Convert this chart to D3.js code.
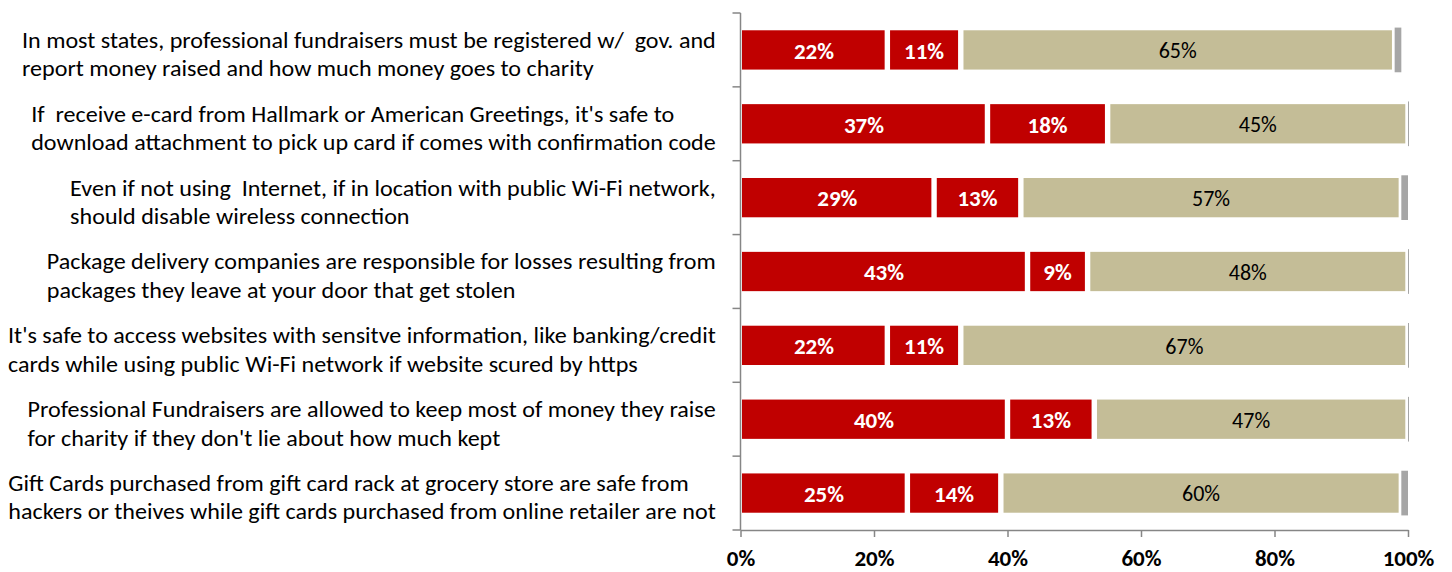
<!DOCTYPE html>
<html><head><meta charset="utf-8">
<script src="https://cdn.jsdelivr.net/npm/d3@7"></script>
<style>
body{margin:0;background:#fff}
svg{display:block}
text{font-family:Carlito,Lato,"Open Sans",sans-serif}
</style>
</head><body>
<svg id="chart" width="1452" height="572"></svg>
<script>
// ---- data ----
const statements = [
  ["In most states, professional fundraisers must be registered w/  gov. and", "report money raised and how much money goes to charity"],
  ["If  receive e-card from Hallmark or American Greetings, it's safe to", "download attachment to pick up card if comes with confirmation code"],
  ["Even if not using  Internet, if in location with public Wi-Fi network,", "should disable wireless connection"],
  ["Package delivery companies are responsible for losses resulting from", "packages they leave at your door that get stolen"],
  ["It's safe to access websites with sensitve information, like banking/credit", "cards while using public Wi-Fi network if website scured by https"],
  ["Professional Fundraisers are allowed to keep most of money they raise", "for charity if they don't lie about how much kept"],
  ["Gift Cards purchased from gift card rack at grocery store are safe from", "hackers or theives while gift cards purchased from online retailer are not"]
];
const seriesA = [22, 37, 29, 43, 22, 40, 25];
const seriesB = [11, 18, 13, 9, 11, 13, 14];
const seriesC = [65, 45, 57, 48, 67, 47, 60];
const seriesD = [1, 0, 1, 0, 0, 0, 1];
const xTicks = [0, 20, 40, 60, 80, 100];
const keys = ["a", "b", "c", "d"];
const colors = {a: "#C00000", b: "#C00000", c: "#C4BD97", d: "#A6A6A6"};

// ---- build table ----
const rows = statements.map((s, i) => ({id: i, a: seriesA[i], b: seriesB[i], c: seriesC[i], d: seriesD[i]}));
const stacked = d3.stack().keys(keys)(rows);

const svg = d3.select("#chart");
const x = d3.scaleLinear().domain([0, 100]).range([740.5, 1408]);
const y = d3.scaleBand().domain(rows.map(r => r.id)).range([13, 530]).paddingInner(0.468).paddingOuter(0.234);
const bw = y.bandwidth();
const axisColor = "#868686";

// ---- bars ----
const gBars = svg.append("g");
stacked.forEach(layer => {
  const key = layer.key;
  const g = gBars.append("g");
  if (key !== "d") {
    g.selectAll("rect").data(layer).enter().append("rect")
      .attr("x", d => x(d[0]) + (d[0] === 0 ? 1.5 : 2.7))
      .attr("y", d => y(d.data.id))
      .attr("width", d => Math.max(0, x(d[1]) - x(d[0]) - (d[0] === 0 ? 1.5 : 2.7) - 2.7))
      .attr("height", bw)
      .attr("fill", colors[key]);
    g.selectAll("text").data(layer).enter().append("text")
      .attr("x", d => (x(d[0]) + x(d[1])) / 2)
      .attr("y", d => y(d.data.id) + bw / 2)
      .attr("dy", "0.38em")
      .attr("text-anchor", "middle")
      .attr("font-size", key === "c" ? 22 : 23)
      .attr("font-weight", key === "c" ? "normal" : "bold")
      .attr("fill", key === "c" ? "#000" : "#fff")
      .text(d => d.data[key] + "%");
  } else {
    g.selectAll("rect").data(layer).enter().append("rect")
      .attr("x", d => x(d[0]))
      .attr("y", d => y(d.data.id) - 2.7)
      .attr("width", d => Math.max(1, x(d[1]) - x(d[0])))
      .attr("height", bw + 5.4)
      .attr("fill", colors[key]);
  }
});

// ---- left axis (category boundaries) ----
const gL = svg.append("g").attr("stroke", axisColor).attr("stroke-width", 1.5);
gL.append("line").attr("x1", x(0)).attr("x2", x(0)).attr("y1", y.range()[0]).attr("y2", y.range()[1]);
d3.range(rows.length + 1).forEach(i => {
  const yy = y.range()[0] + i * y.step();
  gL.append("line").attr("x1", x(0) - 8).attr("x2", x(0)).attr("y1", yy).attr("y2", yy);
});

// ---- bottom axis ----
const gx = svg.append("g").attr("transform", `translate(0,${y.range()[1]})`)
  .call(d3.axisBottom(x).tickValues(xTicks).tickFormat(d => d + "%").tickSize(7).tickPadding(13).tickSizeOuter(0));
gx.select(".domain").attr("stroke", axisColor).attr("stroke-width", 1.5);
gx.selectAll(".tick line").attr("stroke", axisColor).attr("stroke-width", 1.5);
gx.selectAll(".tick text").attr("font-size", 23).attr("font-weight", "bold").attr("fill", "#000")
  .style("font-family", 'Carlito,Lato,"Open Sans",sans-serif');

// ---- category labels ----
const labelRight = 716, labelLeftMin = 8;
const gLab = svg.append("g");
const blocks = [];
statements.forEach((lines, i) => {
  const cy = y(i) + bw / 2;
  const t = gLab.append("g");
  const texts = lines.map((ln, j) => t.append("text")
    .attr("y", cy - 2 + j * 28.3)
    .attr("font-size", 23)
    .attr("fill", "#000")
    .style("white-space", "pre")
    .text(ln));
  blocks.push({t, texts});
});
let maxW = 0;
blocks.forEach(b => {
  b.w = d3.max(b.texts, tx => tx.node().getComputedTextLength());
  maxW = Math.max(maxW, b.w);
});
const sx = (labelRight - labelLeftMin) / maxW;
gLab.attr("transform", `translate(${labelRight},0) scale(${sx},1)`);
blocks.forEach(b => b.texts.forEach(tx => tx.attr("x", -b.w)));
</script>
</body></html>
